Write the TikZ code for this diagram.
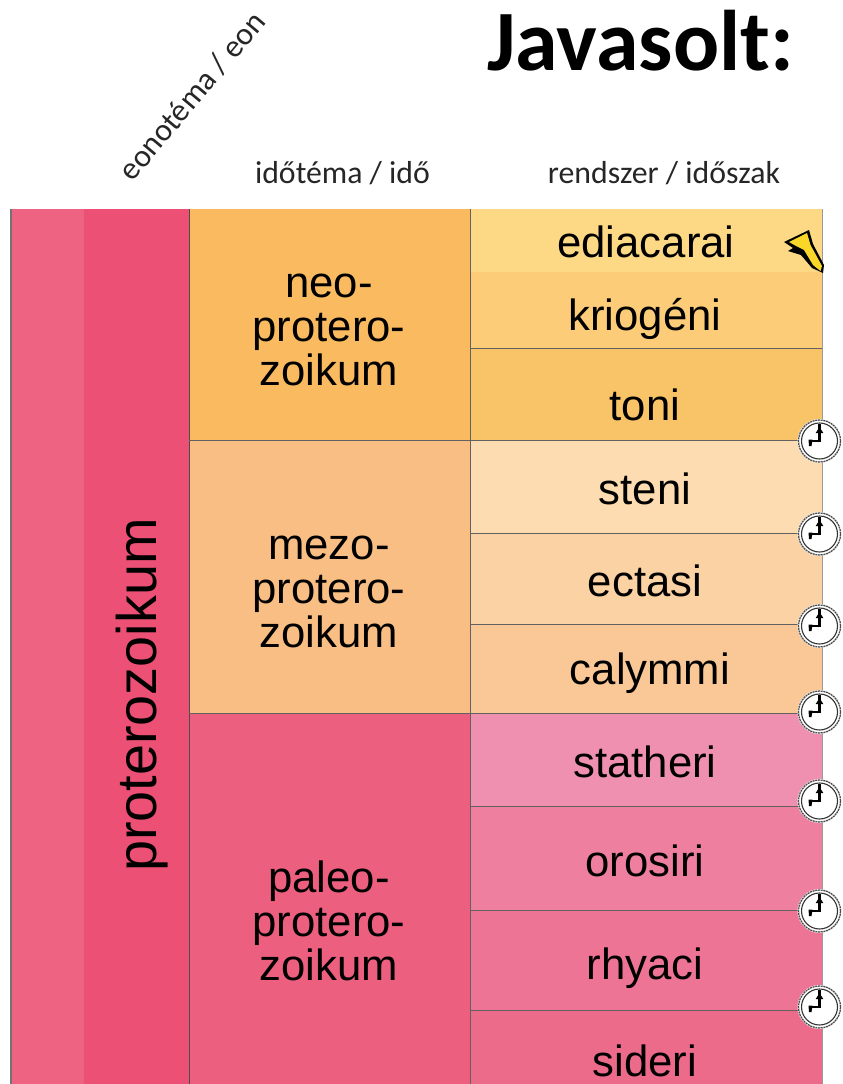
\documentclass[tikz,border=0pt]{standalone}
\usepackage{fontspec}
\setmainfont{Liberation Sans}
\newfontfamily\calib{Carlito}
\tikzset{
  cell/.style={inner sep=0pt,text=black,font=\fontsize{43.7}{44}\selectfont,align=center},
  fillbox/.style={draw=none},
  rule/.style={draw=black!62,line width=0.9pt},
  head/.style={inner sep=0pt,font=\calib\fontsize{31.8}{32}\selectfont,text=black!85},
  clockface/.pic={
    \fill[white] (0,0) circle (22);
    \draw[black!70,line width=1.3pt,dash pattern=on 2pt off 0.7pt] (0,0) circle (21);
    \draw[black!80,line width=1.1pt] (0,0) circle (18);
    \draw[black,line width=2.6pt] (0,1.3) -- (0,-17);
    \fill[black] (-3.8,-8) -- (0,-14) -- (3.8,-8) -- cycle;
    \draw[black,line width=2.6pt] (1.3,0) -- (-9,0);
    \fill[black] (-11,-1.5) -- (-7,-1.5) -- (-8,5) -- (-10.5,5) -- cycle;
  }
}
\begin{document}
\begin{tikzpicture}[x=1pt,y=-1pt]
\useasboundingbox (0,0) rectangle (843,1084);
% period columns
\fill[fillbox,fill=white] (0,0) rectangle (843,1084);
\fill[fill={rgb,255:red,237;green,99;blue,129}] (10,209) rectangle (84,1084);
\fill[fill={rgb,255:red,236;green,80;blue,116}] (84,209) rectangle (189,1084);
\fill[fill={rgb,255:red,250;green,187;blue,96}] (189,209) rectangle (470,440);
\fill[fill={rgb,255:red,249;green,190;blue,131}] (189,440) rectangle (470,713);
\fill[fill={rgb,255:red,236;green,95;blue,126}] (189,713) rectangle (470,1084);
\fill[fill={rgb,255:red,254;green,217;blue,133}] (470,209) rectangle (822,272);
\fill[fill={rgb,255:red,253;green,204;blue,120}] (470,272) rectangle (822,348);
\fill[fill={rgb,255:red,249;green,196;blue,104}] (470,348) rectangle (822,440);
\fill[fill={rgb,255:red,252;green,220;blue,176}] (470,440) rectangle (822,533);
\fill[fill={rgb,255:red,251;green,210;blue,164}] (470,533) rectangle (822,624);
\fill[fill={rgb,255:red,249;green,200;blue,150}] (470,624) rectangle (822,713);
\fill[fill={rgb,255:red,239;green,144;blue,176}] (470,713) rectangle (822,806);
\fill[fill={rgb,255:red,238;green,127;blue,159}] (470,806) rectangle (822,910);
\fill[fill={rgb,255:red,238;green,116;blue,150}] (470,910) rectangle (822,1010);
\fill[fill={rgb,255:red,236;green,106;blue,138}] (470,1010) rectangle (822,1084);
% rules
\draw[rule,draw=black!55,line width=2pt] (11,209) -- (11,1084);
\draw[rule,draw=black!70,line width=1.4pt] (189.5,209) -- (189.5,1084);
\draw[rule] (470,209) -- (470,1084);
\draw[rule,draw=black!40] (822.5,209) -- (822.5,1084);
\draw[rule] (189,440) -- (822,440);
\draw[rule] (189,713) -- (822,713);
\draw[rule] (470,348) -- (822,348);
\draw[rule] (470,533) -- (822,533);
\draw[rule] (470,624) -- (822,624);
\draw[rule] (470,806) -- (822,806);
\draw[rule] (470,910) -- (822,910);
\draw[rule] (470,1010) -- (822,1010);
% headings
\node[inner sep=0pt,font=\calib\bfseries\fontsize{86}{86}\selectfont,anchor=center] (title) at (640.5,41) {Javasolt:};
\node[head,rotate=50] (eon) at (192,96) {eonotéma / eon};
\node[head] (ido) at (342.5,173) {időtéma / idő};
\node[head] (rend) at (664,173) {rendszer / időszak};
% labels
\node[inner sep=0pt,font=\fontsize{55.8}{56}\selectfont,rotate=90] (prot) at (142,695) {proterozoikum};
\node[cell] (neo) at (329,330) {neo-\\protero-\\zoikum};
\node[cell] (mezo) at (329,591.5) {mezo-\\protero-\\zoikum};
\node[cell] (paleo) at (329,921) {paleo-\\protero-\\zoikum};
\node[cell] (edi) at (646,242) {ediacarai};
\node[cell] (kri) at (645,319) {kriogéni};
\node[cell] (ton) at (645,404.5) {toni};
\node[cell] (ste) at (645,489) {steni};
\node[cell] (ect) at (645,581) {ectasi};
\node[cell] (cal) at (650,673) {calymmi};
\node[cell] (sta) at (645,762) {statheri};
\node[cell] (oro) at (645,860.5) {orosiri};
\node[cell] (rhy) at (645,968) {rhyaci};
\node[cell] (sid) at (645,1060.5) {sideri};
% golden spike
\fill[black,line join=round] (784,242) -- (809,230) -- (813,244) -- (824,265) -- (823,273) -- (812,268) -- (801,255) -- (788,251) -- (793,248) -- cycle;
\fill[fill={rgb,255:red,250;green,214;blue,40}] (789,242) -- (807,233) -- (810.5,245) -- (822,266) -- (820.5,271) -- (813,265) -- (804,250) -- (796,246) -- cycle;
% clocks
\foreach \yy in {441,534,626,712,801,911,1007} \pic at (819.5,\yy) {clockface};
\end{tikzpicture}
\end{document}
